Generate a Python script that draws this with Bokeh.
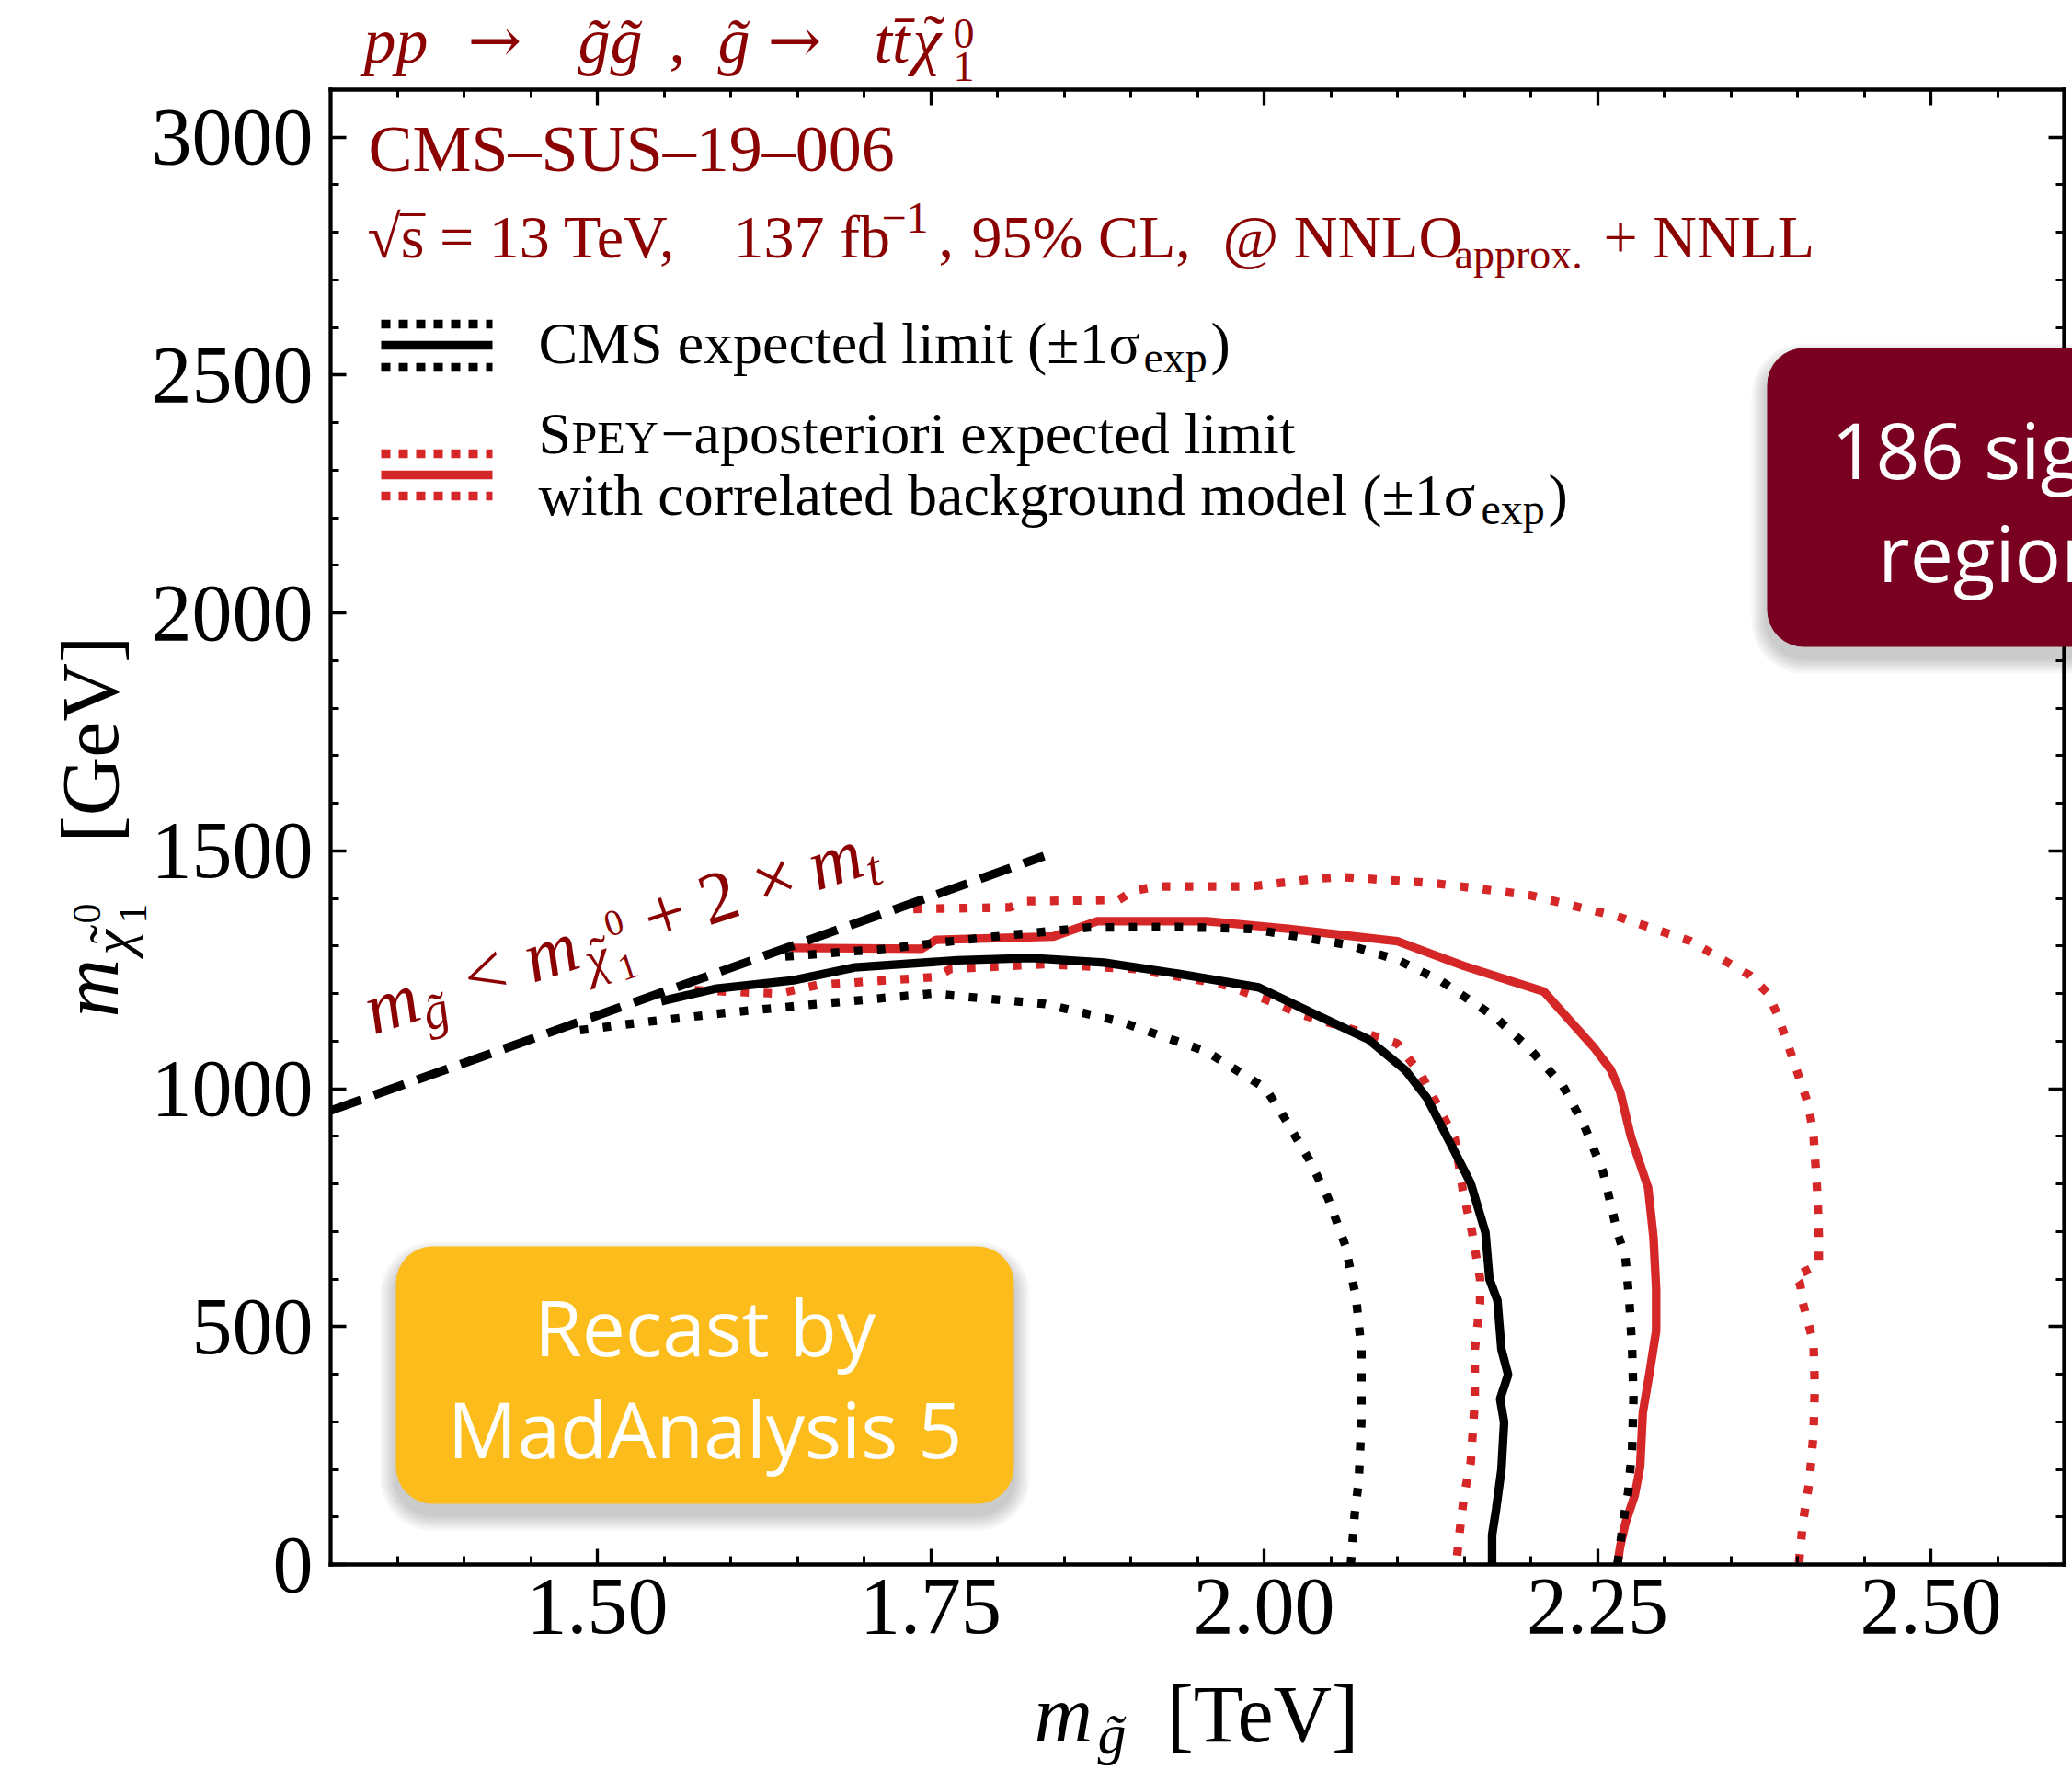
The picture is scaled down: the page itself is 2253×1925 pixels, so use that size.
import math

from bokeh.embed import file_html
from bokeh.models import (BoxAnnotation, CustomJSTickFormatter, FixedTicker, Label,
                          LinearAxis, NumeralTickFormatter, Range1d)
from bokeh.plotting import figure
from bokeh.resources import INLINE

# ---------------------------------------------------------------------------
# Exclusion contours: gluino mass [TeV] vs. neutralino mass [GeV]
# ---------------------------------------------------------------------------
cms_exp_x = [1.548, 1.588, 1.647, 1.693, 1.770, 1.825, 1.880, 1.935, 1.996, 2.034,
             2.078, 2.106, 2.122, 2.141, 2.155, 2.166, 2.169, 2.175, 2.178, 2.183,
             2.177, 2.180, 2.178, 2.174, 2.171, 2.171]
cms_exp_y = [1184, 1210, 1228, 1255, 1270, 1275, 1265, 1242, 1213, 1162,
             1104, 1039, 981, 878, 801, 698, 600, 555, 452, 399,
             348, 299, 200, 116, 62, 0]

cms_up_x = [1.641, 1.715, 1.798, 1.869, 1.935, 1.990, 2.062, 2.100, 2.133, 2.174,
            2.199, 2.224, 2.240, 2.254, 2.265, 2.271, 2.274, 2.276, 2.277, 2.276,
            2.273, 2.270, 2.265]
cms_up_y = [1278, 1294, 1320, 1339, 1340, 1336, 1303, 1271, 1226, 1149,
            1084, 1007, 923, 827, 698, 644, 550, 452, 348, 245,
            151, 102, 0]

cms_dn_x = [1.487, 1.541, 1.605, 1.677, 1.751, 1.836, 1.891, 1.957, 2.001, 2.015,
            2.034, 2.048, 2.061, 2.069, 2.073, 2.073, 2.071, 2.068, 2.065]
cms_dn_y = [1123, 1142, 1162, 1181, 1200, 1178, 1142, 1078, 1001, 940,
            850, 770, 670, 560, 452, 304, 176, 107, 0]

spey_exp_x = [1.645, 1.743, 1.754, 1.842, 1.875, 1.957, 2.018, 2.100, 2.150, 2.210,
              2.247, 2.260, 2.267, 2.275, 2.279, 2.288, 2.292, 2.294, 2.294, 2.289,
              2.284, 2.282, 2.278, 2.271, 2.267, 2.265]
spey_exp_y = [1296, 1294, 1313, 1320, 1352, 1352, 1336, 1310, 1258, 1204,
              1088, 1040, 994, 900, 866, 792, 688, 580, 491, 402,
              319, 205, 146, 87, 37, 0]

spey_up_x = [1.737, 1.809, 1.820, 1.891, 1.902, 1.919, 1.990, 2.040, 2.059, 2.128,
             2.199, 2.265, 2.320, 2.364, 2.378, 2.386, 2.397, 2.408, 2.412, 2.415,
             2.416, 2.416, 2.398, 2.402, 2.404, 2.412, 2.413, 2.412, 2.409, 2.404,
             2.401]
spey_up_y = [1378, 1381, 1394, 1397, 1416, 1425, 1425, 1442, 1445, 1432,
             1407, 1362, 1310, 1239, 1200, 1148, 1059, 968, 904, 775,
             690, 630, 606, 590, 550, 466, 373, 274, 176, 87,
             0]

spey_dn_x = [1.573, 1.636, 1.665, 1.754, 1.765, 1.836, 1.902, 1.968, 2.001, 2.029,
             2.078, 2.100, 2.118, 2.130, 2.143, 2.149, 2.156, 2.162, 2.162, 2.158,
             2.158, 2.155, 2.150, 2.147, 2.144]
spey_dn_y = [1207, 1200, 1218, 1235, 1252, 1262, 1252, 1220, 1188, 1155,
             1115, 1095, 1028, 966, 895, 787, 698, 600, 550, 452,
             343, 215, 146, 77, 0]

# kinematic boundary m_gluino = m_neutralino + 2 m_top
diag_x = [1.300, 1.835]
diag_y = [954, 1489]

x_ticks = [1.50, 1.75, 2.00, 2.25, 2.50]
y_ticks = [0, 500, 1000, 1500, 2000, 2500, 3000]
x_lim = (1.3, 2.6)
y_lim = (0.0, 3100.0)

# ---------------------------------------------------------------------------
# Canvas geometry (pixels): the axes box sits inside a full-canvas frame
# ---------------------------------------------------------------------------
W, H = 2253, 1925
FL, FR, FT, FB = 359, 2244, 97, 1701


def to_x(px):
    return x_lim[0] + (px - FL) * (x_lim[1] - x_lim[0]) / (FR - FL)


def to_y(py):
    return y_lim[0] + (FB - py) * (y_lim[1] - y_lim[0]) / (FB - FT)


SERIF = "Liberation Serif"
SYMB = "DejaVu Serif"
SANS = "Open Sans"
DARKRED = "#8b0000"
RED = "#d62728"
BASE_SHIFT = {SERIF: 0.35, SYMB: 0.35, SANS: 0.42}

p = figure(width=W, height=H,
           x_range=Range1d(to_x(0), to_x(W)), y_range=Range1d(to_y(H), to_y(0)),
           output_backend="svg", toolbar_location=None, min_border=0)
p.title.visible = False
p.outline_line_color = None
p.grid.visible = False
p.background_fill_color = "white"
p.border_fill_color = "white"

x_minor = [round(1.30 + 0.05 * i, 2) for i in range(27)]
y_minor = list(range(0, 3101, 100))


def style_axis(ax, ticks, minor, where, bounds):
    ax.ticker = FixedTicker(ticks=ticks, minor_ticks=minor)
    ax.fixed_location = where
    ax.bounds = bounds
    ax.axis_line_color = "black"
    ax.axis_line_width = 4.3
    ax.axis_line_cap = "square"
    ax.major_tick_in = 17
    ax.major_tick_out = 0
    ax.minor_tick_in = 9
    ax.minor_tick_out = 0
    ax.major_tick_line_width = 3.3
    ax.minor_tick_line_width = 3.0
    ax.major_tick_line_color = "black"
    ax.minor_tick_line_color = "black"
    ax.major_label_text_font = SERIF
    ax.major_label_text_font_size = "88px"
    ax.major_label_text_color = "black"
    ax.axis_label = None


xa = p.xaxis[0]
style_axis(xa, x_ticks, x_minor, y_lim[0], x_lim)
xa.formatter = NumeralTickFormatter(format="0.00")
xa.major_label_standoff = 16

ya = p.yaxis[0]
style_axis(ya, y_ticks, y_minor, x_lim[0], y_lim)
ya.formatter = NumeralTickFormatter(format="0")
ya.major_label_standoff = 19

for side, ticks, minor, where, bounds in (("above", x_ticks, x_minor, y_lim[1], x_lim),
                                          ("right", y_ticks, y_minor, x_lim[1], y_lim)):
    ax = LinearAxis()
    style_axis(ax, ticks, minor, where, bounds)
    ax.formatter = CustomJSTickFormatter(code="return ''")
    ax.major_label_text_font_size = "1px"
    ax.major_label_standoff = 0
    p.add_layout(ax, side)

# ---------------------------------------------------------------------------
# Contours
# ---------------------------------------------------------------------------
LW = 9.3
DOT = "9 16"
p.line(spey_dn_x, spey_dn_y, line_color=RED, line_width=LW, line_dash=DOT)
p.line(spey_up_x, spey_up_y, line_color=RED, line_width=LW, line_dash=DOT)
p.line(spey_exp_x, spey_exp_y, line_color=RED, line_width=LW)
p.line(cms_dn_x, cms_dn_y, line_color="black", line_width=LW, line_dash=DOT)
p.line(cms_up_x, cms_up_y, line_color="black", line_width=LW, line_dash=DOT)
p.line(cms_exp_x, cms_exp_y, line_color="black", line_width=LW)
p.line(diag_x, diag_y, line_color="black", line_width=9.5, line_dash="35 15")


# ---------------------------------------------------------------------------
# Text helpers (positions are baseline-left points in canvas pixels)
# ---------------------------------------------------------------------------
def put(text, px, py, size, color="black", font=SERIF, style="normal",
        angle=0.0, align="left"):
    k = BASE_SHIFT.get(font, 0.35) * size
    px -= k * math.sin(angle)
    py -= k * math.cos(angle)
    p.add_layout(Label(x=to_x(px), y=to_y(py), text=text, text_font=font,
                       text_font_size=f"{size}px", text_font_style=style,
                       text_color=color, angle=angle, text_align=align,
                       text_baseline="alphabetic"))


def put_run(pieces, origin, angle_deg, color):
    th = math.radians(angle_deg)
    ux, uy = math.cos(th), -math.sin(th)
    nx, ny = math.sin(th), math.cos(th)
    for text, size, style, d, s in pieces:
        put(text, origin[0] + d * ux + s * nx, origin[1] + d * uy + s * ny,
            size, color, style=style, angle=th)


TILDE = "\u02dc"

# process title above the axes box
TB = 68
put("pp", 395, TB, 70, DARKRED, style="italic")
put("\u2192", 508, TB, 70, DARKRED, font=SYMB)
put("g\u0303g\u0303", 628, TB, 70, DARKRED, style="italic")
put(",", 727, TB, 70, DARKRED)
put("g\u0303", 780, TB, 70, DARKRED, style="italic")
put("\u2192", 834, TB, 70, DARKRED, font=SYMB)
put("tt\u0304", 950, TB, 70, DARKRED, style="italic")
put("\u03c7", 992, TB, 70, DARKRED, style="italic")
put(TILDE, 1004, TB - 4, 70, DARKRED)
put("0", 1036, 52, 46, DARKRED)
put("1", 1036, 88, 46, DARKRED)

# analysis tag and running conditions
put("CMS\u2013SUS\u201319\u2013006", 400, 187, 72, DARKRED)
L2 = 280
put("\u221as = 13 TeV,", 399, L2, 66, DARKRED)
put("137 fb", 797, L2, 66, DARKRED)
put("\u22121", 958, L2 - 27, 48, DARKRED)
put(",", 1020, L2, 66, DARKRED)
put("95% CL,", 1056, L2, 66, DARKRED)
put("@ NNLO", 1329, L2, 66, DARKRED)
put("approx.", 1581, L2 + 12, 46, DARKRED)
put("+ NNLL", 1743, L2, 66, DARKRED)
# vinculum of the square root
p.line([to_x(434), to_x(462)], [to_y(233), to_y(233)], line_color=DARKRED, line_width=3)

# legend
HX0, HX1 = 414, 535
for color, rows in (("black", (352, 375, 399)), (RED, (493, 516, 539))):
    for i, row in enumerate(rows):
        p.line([to_x(HX0), to_x(HX1)], [to_y(row), to_y(row)], line_color=color,
               line_width=LW, line_dash="solid" if i == 1 else "10 9")

put("CMS expected limit (\u00b11\u03c3", 585, 395, 64)
put("exp", 1243, 405, 48)
put(")", 1316, 395, 64)

put("S", 585, 493, 64)
put("PEY", 621, 493, 50)
put("\u2212aposteriori expected limit", 718, 493, 64)
put("with correlated background model (\u00b11\u03c3", 585, 560, 64)
put("exp", 1610, 570, 48)
put(")", 1683, 560, 64)

# kinematic-boundary annotation along the dashed line
put_run([
    ("m", 80, "italic", 0, 0),
    ("g\u0303", 56, "italic", 58, 14),
    ("<", 80, "normal", 113, 0),
    ("m", 80, "italic", 182, 0),
    ("\u03c7", 56, "italic", 244, 14),
    (TILDE, 56, "normal", 254, 11),
    ("0", 40, "normal", 276, -22),
    ("1", 40, "normal", 276, 28),
    ("+", 80, "normal", 319, 0),
    ("2", 80, "normal", 383, 0),
    ("\u00d7", 80, "normal", 444, 0),
    ("m", 80, "italic", 507, 0),
    ("t", 56, "italic", 565, 14),
], (406, 1126), 18.0, DARKRED)

# axis titles
put("m", 1124, 1895, 88, style="italic")
put("g\u0303", 1193, 1907, 62, style="italic")
put("[TeV]", 1268, 1895, 88)

put_run([
    ("m", 88, "italic", 0, 0),
    ("\u03c7", 62, "italic", 68, 14),
    (TILDE, 62, "normal", 80, 11),
    ("0", 44, "normal", 102, -20),
    ("1", 44, "normal", 102, 30),
    ("[GeV]", 88, "normal", 190, 0),
], (129, 1106), 90.0, "black")


# ---------------------------------------------------------------------------
# Badges
# ---------------------------------------------------------------------------
def badge(left, right, top, bottom, color, lines):
    for k in range(6):
        g = 2 + 3 * k
        p.add_layout(BoxAnnotation(left=to_x(left - g), right=to_x(right + g),
                                   top=to_y(top + 12 - g), bottom=to_y(bottom + 12 + g),
                                   fill_color="black", fill_alpha=0.035,
                                   line_color=None, border_radius=40 + g))
    p.add_layout(BoxAnnotation(left=to_x(left), right=to_x(right), top=to_y(top),
                               bottom=to_y(bottom), fill_color=color, fill_alpha=1.0,
                               line_color=None, border_radius=40))
    cx = 0.5 * (left + right)
    for text, base in lines:
        put(text, cx, base, 84, "white", font=SANS, align="center")


badge(430, 1102, 1355, 1635, "#fcbc1b", [("Recast by", 1477), ("MadAnalysis 5", 1588)])
badge(1921, 2453, 378, 703, "#7a0022", [("186 signal", 523), ("regions", 635)])

open("out.html", "w").write(file_html(p, INLINE))
